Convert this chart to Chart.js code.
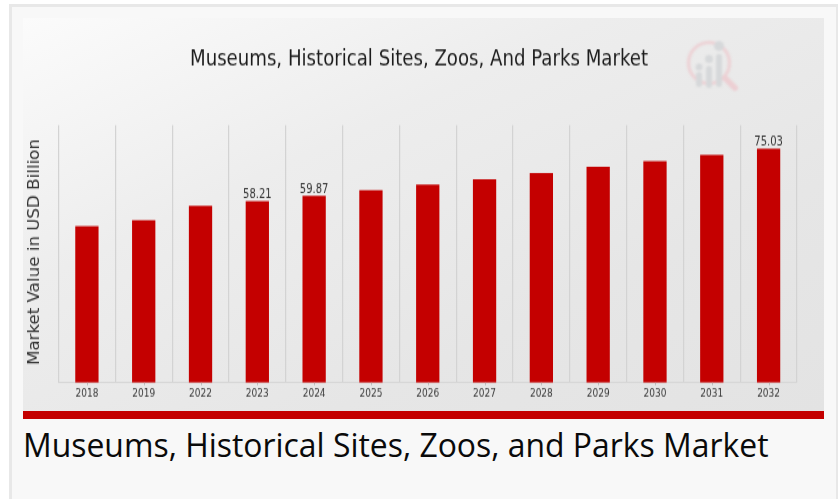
<!DOCTYPE html>
<html>
<head>
<meta charset="utf-8">
<title>Museums, Historical Sites, Zoos, and Parks Market</title>
<script src="https://cdn.jsdelivr.net/npm/chart.js@4/dist/chart.umd.min.js"></script>
<style>
  html, body { margin: 0; padding: 0; background: #fff; }
  body { width: 838px; height: 499px; overflow: hidden; position: relative; }
  .card {
    position: absolute; left: 9px; top: 4px; width: 824px; height: 500px;
    background: #f8f8f8; border: 3px solid #e8e8e8; box-sizing: content-box;
  }
  .panel {
    position: absolute; left: 23px; top: 18px; width: 801px; height: 393px; overflow: hidden;
    background: linear-gradient(155deg, #fbfbfb 0%, #ededed 35%, #e6e6e6 70%, #e3e3e3 100%);
  }
  /* the chart art is drawn short and stretched tall */
  #marketChart {
    position: absolute; left: 0; top: 0; transform-origin: 0 0; transform: scaleY(1.25);
    filter: blur(0.6px);
  }
  .logo { position: absolute; left: 680px; top: 34px; filter: blur(1px); }
  .band { position: absolute; left: 23px; top: 411px; width: 801px; height: 8px; background: #c40000; }
  .caption {
    position: absolute; left: 23px; top: 423px; color: #0a0a0a; white-space: nowrap;
    font: 31.9px/44px "Open Sans", sans-serif;
  }
</style>
</head>
<body>
<div class="card"></div>
<div class="panel"><canvas id="marketChart" width="792" height="314"></canvas></div>
<svg class="logo" width="62" height="60" viewBox="680 34 62 60">
  <circle cx="709" cy="63" r="20.5" fill="none" stroke="#ecd3d6" stroke-width="3.5"/>
  <line x1="725" y1="78" x2="735" y2="88" stroke="#eccfd3" stroke-width="6" stroke-linecap="round"/>
  <g fill="#d6d8da">
    <circle cx="699" cy="67" r="3.5"/><rect x="696" y="72" width="6" height="15" rx="3"/>
    <circle cx="709" cy="59" r="4"/><rect x="706" y="66" width="6" height="22" rx="3"/>
    <circle cx="719" cy="46" r="5"/><rect x="716" y="54" width="6" height="33" rx="3"/>
  </g>
</svg>
<div class="band"></div>
<div class="caption">Museums, Historical Sites, Zoos, and Parks Market</div>

<script>
// years and market size, USD billion
const years = ["2018", "2019", "2022", "2023", "2024", "2025", "2026", "2027", "2028", "2029", "2030", "2031", "2032"];
const marketValues = [50.2, 52.1, 56.7, 58.21, 59.87, 61.7, 63.5, 65.2, 67.2, 69.2, 71.0, 73.0, 75.03];
const labeledYears = ["2023", "2024", "2032"];

const chartTitle = "Museums, Historical Sites, Zoos, And Parks Market";
const yAxisTitle = "Market Value in USD Billion";
const stretchY = 1.25;

// value text above the few bars that carry one
const barValueLabels = {
  id: "barValueLabels",
  afterDatasetsDraw(chart) {
    const { ctx } = chart;
    const bars = chart.getDatasetMeta(0).data;
    ctx.save();
    ctx.font = "10px 'DejaVu Sans'";
    ctx.fillStyle = "#333";
    ctx.textAlign = "center";
    ctx.textBaseline = "bottom";
    years.forEach((year, i) => {
      if (labeledYears.includes(year)) {
        ctx.fillText(marketValues[i].toFixed(2), bars[i].x, bars[i].y);
      }
    });
    ctx.restore();
  }
};

// small marks under each bar, the grid lines sit between categories
const centerTicks = {
  id: "centerTicks",
  afterDraw(chart) {
    const { ctx, chartArea } = chart;
    const xScale = chart.scales.x;
    ctx.save();
    ctx.strokeStyle = "#bbb";
    years.forEach((year, i) => {
      const x = Math.round(xScale.getPixelForTick(i)) + 0.5;
      ctx.beginPath();
      ctx.moveTo(x, chartArea.bottom);
      ctx.lineTo(x, chartArea.bottom + 2);
      ctx.stroke();
    });
    ctx.restore();
  }
};

// y title keeps its normal proportions, so undo the canvas stretch along the text
const yTitle = {
  id: "yTitle",
  afterDraw(chart) {
    const { ctx, chartArea } = chart;
    ctx.save();
    ctx.translate(12, (chartArea.top + chartArea.bottom) / 2 - 1.6);
    ctx.scale(1, 1 / stretchY);
    ctx.rotate(-Math.PI / 2);
    ctx.font = "16.7px 'DejaVu Sans'";
    ctx.fillStyle = "#333";
    ctx.textAlign = "center";
    ctx.textBaseline = "middle";
    ctx.fillText(yAxisTitle, 0, 0);
    ctx.restore();
  }
};

new Chart(document.getElementById("marketChart"), {
  type: "bar",
  data: {
    labels: years,
    datasets: [{
      label: "Market Value in USD Billion",
      data: marketValues,
      backgroundColor: "#c40000",
      barPercentage: 0.41,
      categoryPercentage: 1
    }]
  },
  options: {
    responsive: false,
    animation: false,
    layout: { padding: { left: 18, right: 18 } },
    plugins: {
      legend: { display: false },
      tooltip: { enabled: false },
      title: {
        display: true,
        text: chartTitle,
        color: "#1c1c1c",
        font: { family: "'DejaVu Sans'", size: 18.15, weight: "normal" },
        padding: { top: 22, bottom: 42 }
      }
    },
    scales: {
      x: {
        afterFit(scale) { scale.height = 22.2; },
        border: { color: "#d6d6d6" },
        grid: { color: "#d3d3d3", lineWidth: 1.2, offset: true, drawTicks: false },
        ticks: {
          color: "#3a3a3a",
          font: { family: "'DejaVu Sans'", size: 9 },
          padding: 3,
          autoSkip: false,
          maxRotation: 0
        }
      },
      y: {
        min: 0,
        max: 82.5,
        afterFit(scale) { scale.width = 17.5; },
        border: { display: false },
        grid: { display: false },
        ticks: { display: false }
      }
    }
  },
  plugins: [barValueLabels, centerTicks, yTitle]
});
</script>
</body>
</html>
